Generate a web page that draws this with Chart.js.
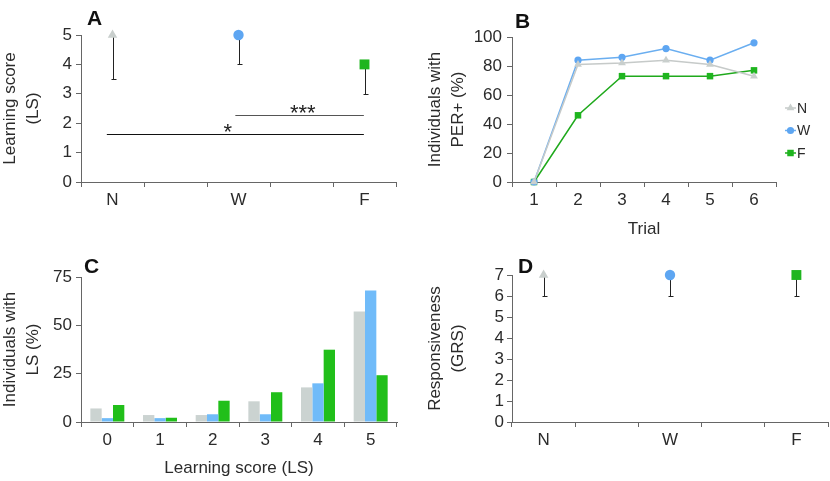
<!DOCTYPE html>
<html><head><meta charset="utf-8">
<script src="https://cdn.jsdelivr.net/npm/chart.js@4.4.1/dist/chart.umd.min.js"></script>
<style>
html,body{margin:0;padding:0;background:#fff;}
#wrap{position:relative;width:830px;height:481px;overflow:hidden;background:#fff;}
canvas{position:absolute;}
.lbl{position:absolute;font:bold 21px "Liberation Sans",Arial,sans-serif;color:#111;line-height:1;}
</style></head><body>
<div id="wrap">
  <canvas id="cA" width="415" height="240" style="left:0;top:0"></canvas>
  <canvas id="cB" width="415" height="240" style="left:415px;top:0"></canvas>
  <canvas id="cC" width="415" height="241" style="left:0;top:240px"></canvas>
  <canvas id="cD" width="415" height="241" style="left:415px;top:240px"></canvas>
  <div class="lbl" style="left:87px;top:7px">A</div>
  <div class="lbl" style="left:515px;top:10px">B</div>
  <div class="lbl" style="left:84px;top:255px">C</div>
  <div class="lbl" style="left:518px;top:255px">D</div>
</div>
<script>
// ---------- data ----------
const groupSlots = ['N', '', 'W', '', 'F'];      // x tick labels of panels A and D
const groups = ['N', 'W', 'F'];
const lsMean = [5, 5, 4];                         // panel A: learning score
const lsLow = [3.5, 4, 3];                        // panel A: lower whisker
const sigBars = [                                 // panel A: significance bars (category-index units)
  {from: -0.09, to: 3.99, y: 1.64, text: '*', tx: 1.83, ty: 1.9, color: '#111'},
  {from: 1.95, to: 3.99, y: 2.28, text: '***', tx: 3.02, ty: 2.53, color: '#555'}
];
const trials = ['1', '2', '3', '4', '5', '6'];
const perN = [0, 81, 82, 84, 81, 73];
const perW = [0, 84, 86, 92, 84, 96];
const perF = [0, 46, 73, 73, 73, 77];
const lsCats = ['0', '1', '2', '3', '4', '5'];
const distN = [7, 3.6, 3.6, 10.7, 17.9, 57.1];
const distW = [2, 2, 4, 4, 20, 68];
const distF = [8.8, 2.2, 11, 15.4, 37.4, 24.2];
const grsMean = [7, 7, 7];                        // panel D: responsiveness
const grsLow = [6, 6, 6];

// ---------- style ----------
const txt = '#2b2b2b', axisCol = '#666';
const colN = '#c9cfcd', colW = '#5ea6f2', colF = '#1fb51f';
const barN = '#cbd3d1', barW = '#70bbf9', barF = '#21bf1a';
const lineN = '#c6cac9', lineW = '#6aaef0', lineF = '#1fa91c';
const styles = ['triangle', 'circle', 'rect'];
const cols = [colN, colW, colF];
const radii = [5.5, 5.2, 7];

Chart.defaults.font.family = '"Liberation Sans", Arial, sans-serif';
Chart.defaults.font.size = 17;
Chart.defaults.color = txt;

function yAxis(min, max, step, width, title, titlePad, tpad) {
  return {
    type: 'linear', min, max,
    ticks: {stepSize: step, padding: tpad, color: txt, font: {size: 17}, autoSkip: false},
    grid: {drawOnChartArea: false, drawTicks: true, tickLength: 5, color: axisCol},
    border: {color: axisCol, width: 1},
    title: {display: true, text: title, color: txt, font: {size: 17, lineHeight: 1.4}, padding: {top: titlePad, bottom: 0}},
    afterFit(s) { s.width = width; }
  };
}
function xAxis(height, title, titlePad) {
  const a = {
    type: 'category', offset: true,
    ticks: {padding: 3, color: txt, font: {size: 17}, autoSkip: false, maxRotation: 0},
    grid: {offset: true, drawOnChartArea: false, drawTicks: true, tickLength: 5, color: axisCol},
    border: {color: axisCol, width: 1},
    afterFit(s) { s.height = height; }
  };
  if (title) a.title = {display: true, text: title, color: txt, font: {size: 17, lineHeight: 1.2}, padding: {top: 0, bottom: titlePad}};
  return a;
}

function marker(ctx, style, x, y, r, color) {
  ctx.fillStyle = color;
  ctx.beginPath();
  if (style === 'circle') ctx.arc(x, y, r, 0, Math.PI * 2);
  else if (style === 'rect') { const s = r * Math.SQRT1_2; ctx.rect(x - s, y - s, 2 * s, 2 * s); }
  else { ctx.moveTo(x, y - r); ctx.lineTo(x + r * 0.866, y + r * 0.5); ctx.lineTo(x - r * 0.866, y + r * 0.5); ctx.closePath(); }
  ctx.fill();
}

const errorBars = {
  id: 'errorBars',
  beforeDatasetsDraw(chart, args, opts) {
    const low = opts.low; if (!low) return;
    const ctx = chart.ctx, ys = chart.scales.y;
    ctx.save(); ctx.strokeStyle = '#222'; ctx.lineWidth = 1;
    chart.data.datasets.forEach((ds, i) => {
      const el = chart.getDatasetMeta(i).data[0];
      const yl = Math.round(ys.getPixelForValue(low[i])) + 0.5;
      const x = Math.round(el.x) + 0.5;
      ctx.beginPath(); ctx.moveTo(x, el.y); ctx.lineTo(x, yl);
      ctx.moveTo(x - 2, yl); ctx.lineTo(x + 3, yl); ctx.stroke();
    });
    ctx.restore();
  }
};

const sigPlugin = {
  id: 'sigPlugin',
  afterDatasetsDraw(chart, args, opts) {
    if (!opts.bars) return;
    const ctx = chart.ctx, xs = chart.scales.x, ys = chart.scales.y;
    ctx.save();
    opts.bars.forEach(b => {
      const y = Math.round(ys.getPixelForValue(b.y)) + 0.5;
      ctx.strokeStyle = b.color; ctx.lineWidth = 1;
      ctx.beginPath(); ctx.moveTo(xs.getPixelForValue(b.from), y); ctx.lineTo(xs.getPixelForValue(b.to), y); ctx.stroke();
      ctx.fillStyle = '#222'; ctx.font = '22px "Liberation Sans", Arial, sans-serif';
      ctx.textAlign = 'center'; ctx.textBaseline = 'alphabetic';
      ctx.fillText(b.text, xs.getPixelForValue(b.tx), ys.getPixelForValue(b.ty) + 0.575 * 22);
    });
    ctx.restore();
  }
};

const lineLegend = {
  id: 'lineLegend',
  afterDatasetsDraw(chart, args, opts) {
    const ctx = chart.ctx;
    const x0 = chart.chartArea.right + opts.dx;
    chart.data.datasets.forEach((ds, i) => {
      const y = opts.top + i * opts.gap;
      ctx.save();
      ctx.strokeStyle = ds.borderColor; ctx.lineWidth = ds.borderWidth;
      ctx.beginPath(); ctx.moveTo(x0, y); ctx.lineTo(x0 + opts.len, y); ctx.stroke();
      marker(ctx, ds.pointStyle, x0 + opts.len / 2, y, ds.pointRadius, ds.pointBackgroundColor);
      ctx.fillStyle = txt; ctx.font = '14px "Liberation Sans", Arial, sans-serif';
      ctx.textAlign = 'left'; ctx.textBaseline = 'middle';
      ctx.fillText(ds.label, x0 + opts.len + 1, y + 1);
      ctx.restore();
    });
  }
};

function markerDatasets(means) {
  return groups.map((g, i) => ({
    label: g, data: [{x: g, y: means[i]}], showLine: false, clip: false,
    pointStyle: styles[i], pointRadius: radii[i], pointHoverRadius: radii[i],
    pointBackgroundColor: cols[i], pointBorderColor: cols[i], pointBorderWidth: 0,
    backgroundColor: cols[i], borderColor: cols[i]
  }));
}

const common = {
  responsive: false, animation: false, events: [],
  plugins: {legend: {display: false}, tooltip: {enabled: false}}
};

// ---------- Panel A ----------
new Chart(document.getElementById('cA'), {
  type: 'line',
  data: {labels: groupSlots, datasets: markerDatasets(lsMean)},
  options: Object.assign({}, common, {
    layout: {autoPadding: false, padding: {left: 0, top: 35, right: 19, bottom: 0}},
    scales: {
      x: xAxis(58),
      y: yAxis(0, 5, 1, 81, ['Learning score', '(LS)'], -2, 4)
    },
    plugins: Object.assign({}, common.plugins, {errorBars: {low: lsLow}, sigPlugin: {bars: sigBars}})
  }),
  plugins: [errorBars, sigPlugin]
});

// ---------- Panel B ----------
function lineDs(label, data, color, mcol, style, r) {
  return {label, data, borderColor: color, borderWidth: 1.5, tension: 0, clip: false,
    pointStyle: style, pointRadius: r, pointHoverRadius: r, pointBorderWidth: 0,
    pointBackgroundColor: mcol, pointBorderColor: mcol, backgroundColor: mcol};
}
new Chart(document.getElementById('cB'), {
  type: 'line',
  data: {labels: trials, datasets: [
    lineDs('N', perN, lineN, colN, 'triangle', 4.5),
    lineDs('W', perW, lineW, colW, 'circle', 3.6),
    lineDs('F', perF, lineF, colF, 'rect', 4.6)
  ]},
  options: Object.assign({}, common, {
    layout: {autoPadding: false, padding: {left: 0, top: 37, right: 54, bottom: 0}},
    scales: {
      x: xAxis(58, 'Trial', 0),
      y: yAxis(0, 100, 20, 97, ['Individuals with', 'PER+ (%)'], 8, 5)
    },
    plugins: Object.assign({}, common.plugins, {lineLegend: {dx: 9, len: 11, top: 108, gap: 22.5}})
  }),
  plugins: [lineLegend]
});

// ---------- Panel C ----------
new Chart(document.getElementById('cC'), {
  type: 'bar',
  data: {labels: lsCats, datasets: [
    {label: 'N', data: distN, backgroundColor: barN, borderWidth: 0},
    {label: 'W', data: distW, backgroundColor: barW, borderWidth: 0},
    {label: 'F', data: distF, backgroundColor: barF, borderWidth: 0}
  ]},
  options: Object.assign({}, common, {
    datasets: {bar: {categoryPercentage: 0.645, barPercentage: 1}},
    layout: {autoPadding: false, padding: {left: 0, top: 37, right: 18, bottom: 0}},
    scales: {
      x: xAxis(59, 'Learning score (LS)', 2),
      y: yAxis(0, 75, 25, 81, ['Individuals with', 'LS (%)'], -2, 4)
    }
  })
});

// ---------- Panel D ----------
new Chart(document.getElementById('cD'), {
  type: 'line',
  data: {labels: groupSlots, datasets: markerDatasets(grsMean)},
  options: Object.assign({}, common, {
    layout: {autoPadding: false, padding: {left: 0, top: 35, right: 2, bottom: 0}},
    scales: {
      x: xAxis(59),
      y: yAxis(0, 7, 1, 97, ['Responsiveness', '(GRS)'], 8, 3)
    },
    plugins: Object.assign({}, common.plugins, {errorBars: {low: grsLow}})
  }),
  plugins: [errorBars]
});
</script>
</body></html>
